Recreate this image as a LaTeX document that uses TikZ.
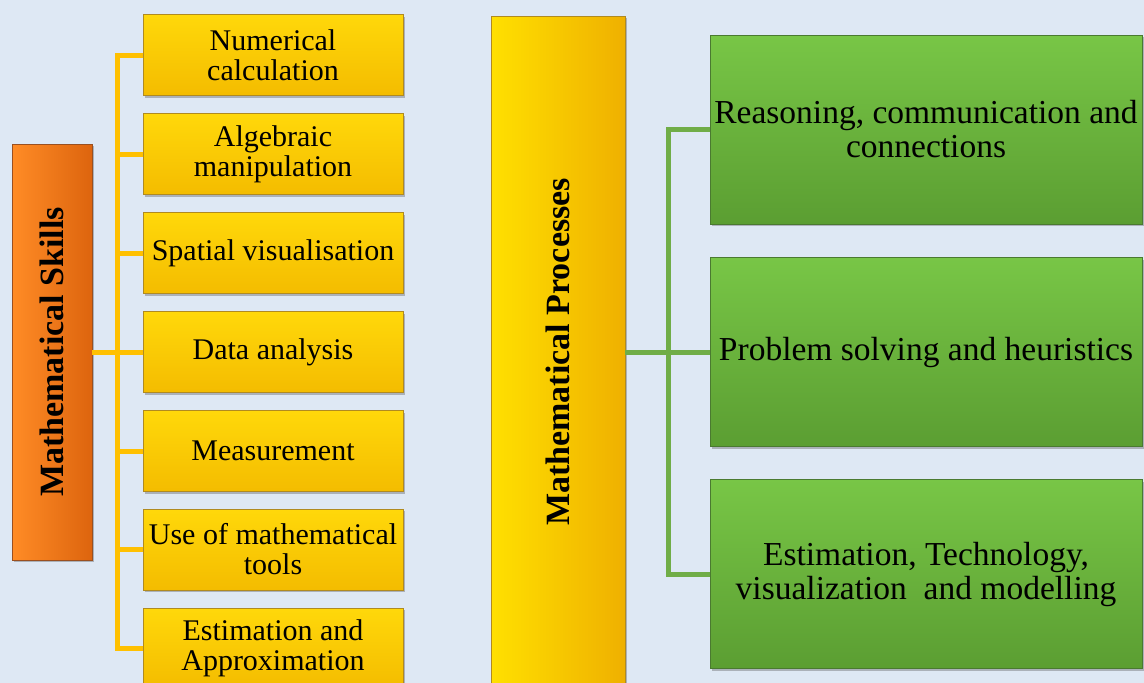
\documentclass[tikz,border=0pt]{standalone}
\usepackage{fontspec}
\usepackage{graphicx}
\setmainfont{Liberation Serif}
\usetikzlibrary{shadows}
\definecolor{bgc}{HTML}{DEE8F4}
\definecolor{ylTop}{HTML}{FFD80A}
\definecolor{ylBot}{HTML}{F4BC00}
\definecolor{ylEdge}{HTML}{B08A20}
\definecolor{bigL}{HTML}{FFE000}
\definecolor{bigR}{HTML}{EFB000}
\definecolor{orL}{HTML}{FF8C26}
\definecolor{orR}{HTML}{DD640E}
\definecolor{orEdge}{HTML}{9A5020}
\definecolor{grTop}{HTML}{78C646}
\definecolor{grBot}{HTML}{5B9E32}
\definecolor{grEdge}{HTML}{4A7A30}
\definecolor{ylink}{HTML}{FFC000}
\definecolor{glink}{HTML}{70AD47}
\begin{document}
\begin{tikzpicture}[x=1pt,y=-1pt,
  shad/.style={drop shadow={shadow xshift=2pt,shadow yshift=-2pt,opacity=0.35,fill=black!70}},
  smallbox/.style={rectangle, minimum width=260pt, minimum height=81pt, inner sep=0pt,
    top color=ylTop, bottom color=ylBot, draw=ylEdge, line width=0.8pt, shad,
    align=center, font=\fontsize{30}{30}\selectfont},
  skillbox/.style={rectangle, minimum width=80pt, minimum height=416pt, inner sep=0pt,
    left color=orL, right color=orR, draw=orEdge, line width=0.8pt, shad,
    font=\bfseries\fontsize{34}{34}\selectfont},
  procbox/.style={rectangle, minimum width=134pt, minimum height=672pt, inner sep=0pt,
    left color=bigL, right color=bigR, draw=ylEdge, line width=0.8pt, shad,
    font=\bfseries\fontsize{34}{34}\selectfont},
  greenbox/.style={rectangle, minimum width=432pt, minimum height=189pt, inner sep=0pt,
    top color=grTop, bottom color=grBot, draw=grEdge, line width=0.8pt, shad,
    align=center, font=\fontsize{33.5}{34}\selectfont},
  ylinkline/.style={draw=ylink, line width=5pt},
  glinkline/.style={draw=glink, line width=5pt}]
\useasboundingbox (0,0) rectangle (1144,683);
\fill[bgc] (0,0) rectangle (1144,683);
\clip (0,0) rectangle (1144,683);

\coordinate (busL) at (117,352);
\coordinate (busR) at (668,352);

% boxes
\node[skillbox] (sk) at (52,352) {\rotatebox{90}{Mathematical Skills}};
\node[smallbox] (n1) at (273,55) {Numerical\\calculation};
\node[smallbox] (n2) at (273,154) {Algebraic\\manipulation};
\node[smallbox] (n3) at (273,253) {Spatial visualisation};
\node[smallbox] (n4) at (273,352) {Data analysis};
\node[smallbox] (n5) at (273,451) {Measurement};
\node[smallbox] (n6) at (273,549.5) {Use of mathematical\\tools};
\node[smallbox] (n7) at (273,648.5) {Estimation and\\Approximation};

\node[procbox] (pr) at (558,352) {\rotatebox{90}{Mathematical Processes}};
\node[greenbox] (g1) at (926,129.5) {Reasoning, communication and\\connections};
\node[greenbox] (g2) at (926,352) {Problem solving and heuristics};
\node[greenbox] (g3) at (926,574) {Estimation, Technology,\\visualization\ \ and modelling};

% yellow tree
\draw[ylinkline] (n1.west) -| (busL) |- (n7.west);
\foreach \n in {n2,n3,n5,n6} \draw[ylinkline] (busL |- \n.west) -- (\n.west);
\draw[ylinkline] (sk.east) -- (n4.west);
% green tree
\draw[glinkline] (g1.west) -| (busR) |- (g3.west);
\draw[glinkline] (pr.east) -- (g2.west);
\end{tikzpicture}
\end{document}
